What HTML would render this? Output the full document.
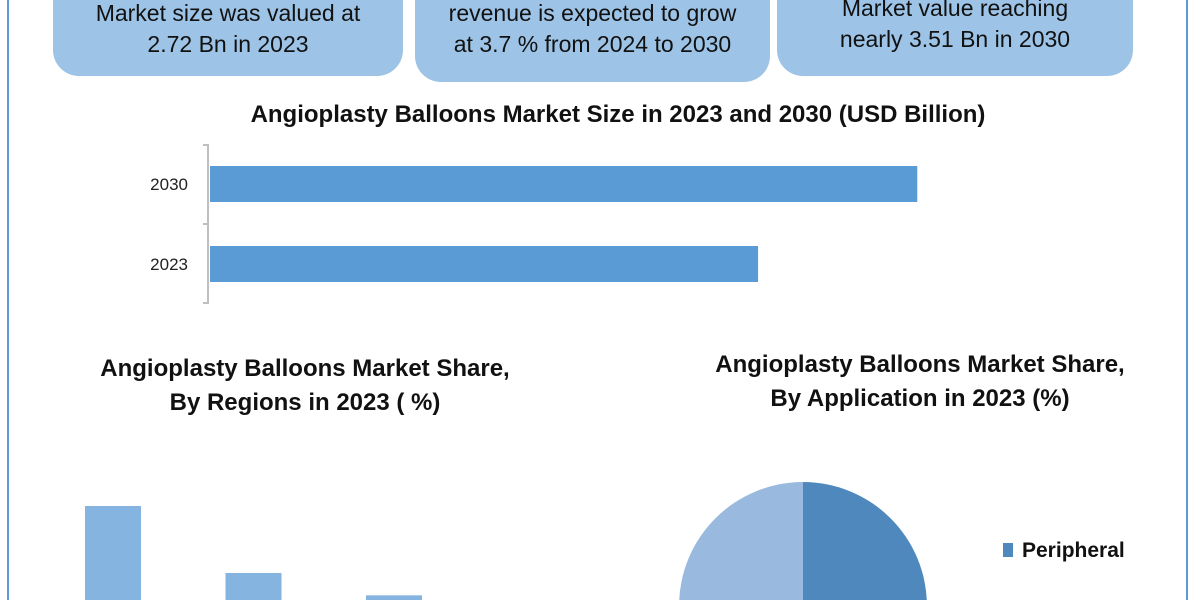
<!DOCTYPE html>
<html><head><meta charset="utf-8"><style>
html,body{margin:0;width:1200px;height:600px;overflow:hidden;background:#fff;font-family:"Liberation Sans",sans-serif}
.wrap{position:relative;width:1200px;height:600px;overflow:hidden}
.frame{position:absolute;left:7px;top:-5px;width:1181px;height:606px;border:2px solid #5b9bd5;border-bottom:none;box-sizing:border-box}
.box{position:absolute;background:#9dc3e6;border-radius:0 0 26px 26px;color:#111;font-size:23px;text-align:center;line-height:31px}
.t{position:absolute;font-weight:bold;color:#111;text-align:center;white-space:nowrap}
</style></head><body>
<div class="wrap">
<div class="frame"></div>
<div class="box" style="left:53px;top:-20px;width:350px;height:96px;padding-top:18px;box-sizing:border-box">Market size was valued at<br>2.72 Bn in 2023</div>
<div class="box" style="left:415px;top:-20px;width:355px;height:102px;padding-top:18px;box-sizing:border-box">revenue is expected to grow<br>at 3.7 % from 2024 to 2030</div>
<div class="box" style="left:777px;top:-20px;width:356px;height:96px;padding-top:13px;box-sizing:border-box">Market value reaching<br>nearly 3.51 Bn in 2030</div>
<div class="t" style="left:0;width:1236px;top:101px;font-size:24px">Angioplasty Balloons Market Size in 2023 and 2030 (USD Billion)</div>
<svg id="bc" width="1200" height="600" style="position:absolute;left:0;top:0"></svg>
<div class="t" style="left:50px;width:510px;top:352px;font-size:24px;line-height:34px">Angioplasty Balloons Market Share,<br>By Regions in 2023 ( %)</div>
<div class="t" style="left:665px;width:510px;top:348px;font-size:24px;line-height:34px">Angioplasty Balloons Market Share,<br>By Application in 2023 (%)</div>
<div style="position:absolute;left:1003px;top:539px;font-weight:bold;font-size:21px;color:#111"><span style="display:inline-block;width:10px;height:14px;background:#4f88bd;margin-right:9px"></span>Peripheral</div>
</div>
<script>
const years=["2030","2023"];
const sizes=[3.51,2.72];
const regionVals=[30,15,10];
const pieShares=[50,50];
const ns="http://www.w3.org/2000/svg";
const svg=document.getElementById('bc');
function mk(t,a){const e=document.createElementNS(ns,t);for(const k in a)e.setAttribute(k,a[k]);svg.appendChild(e);return e;}
const x0=210,pxPer=201.5;
const xs=v=>x0+v*pxPer;
let ax=mk('path',{d:'M203 145H208V303H203M203 224H208',stroke:'#bfbfbf','stroke-width':2,fill:'none'});


years.forEach((y,i)=>{
 const yc=184+i*80;
 const r=mk('rect',{x:x0,y:yc-18,width:xs(sizes[i])-x0,height:36,fill:'#5b9bd5'});
 
 
 const t=mk('text',{x:188,y:yc+6,'text-anchor':'end','font-size':17,fill:'#222','font-family':'Liberation Sans'});t.textContent=y;
 
 
});
const base=640, rpx=134/30;
regionVals.forEach((v,i)=>{
 const r=mk('rect',{x:85+i*140.5,y:base-v*rpx,width:56,height:v*rpx,fill:'#85b4e0'});
 
 
});
const cx=803,cy=606,R=124;let a=-Math.PI/2;const cols=['#4f88bd','#99b9de'];
const tot=pieShares.reduce((s,v)=>s+v,0);
pieShares.forEach((v,i)=>{
 const a2=a+v/tot*2*Math.PI;
 const p=mk('path',{d:`M${cx} ${cy}L${cx+R*Math.cos(a)} ${cy+R*Math.sin(a)}A${R} ${R} 0 ${a2-a>Math.PI?1:0} 1 ${cx+R*Math.cos(a2)} ${cy+R*Math.sin(a2)}Z`,fill:cols[i]});
 
 
 a=a2;
});
</script>
</body></html>
